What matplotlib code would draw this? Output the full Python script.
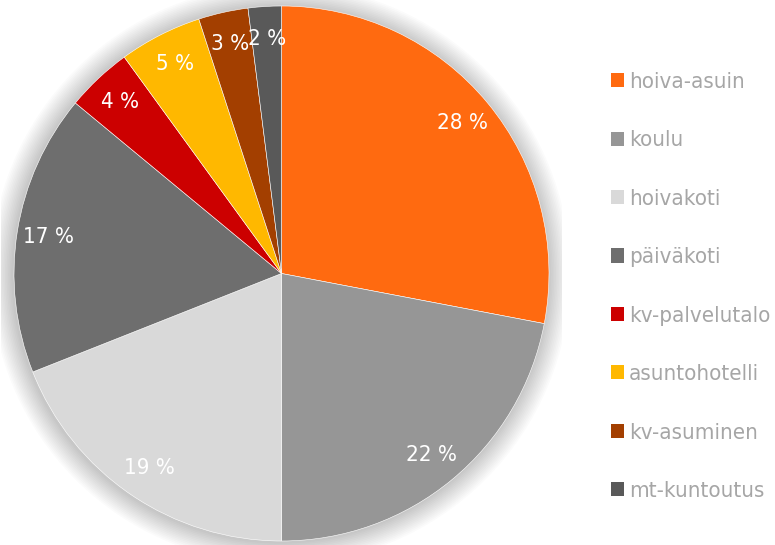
import matplotlib.pyplot as plt
from matplotlib.patches import Patch, Circle

categories = ['hoiva-asuin', 'koulu', 'hoivakoti', 'päiväkoti',
              'kv-palvelutalo', 'asuntohotelli', 'kv-asuminen', 'mt-kuntoutus']
shares = [28, 22, 19, 17, 4, 5, 3, 2]
colors = ['#FF6A10', '#969696', '#D9D9D9', '#6E6E6E',
          '#CC0000', '#FFB800', '#A33F00', '#595959']

font = ['DejaVu Sans']

fig = plt.figure(figsize=(7.75, 5.45), dpi=100)
ax = fig.add_axes([0, 0, 1, 1])

# soft shadow around the pie
for i in range(14):
    ax.add_patch(Circle((-0.004, -0.004), 1.0 + 0.006 * (14 - i), color='black',
                        alpha=0.014, lw=0, zorder=0))

wedges, texts, autotexts = ax.pie(
    shares, colors=colors, startangle=90, counterclock=False,
    autopct=lambda p: f'{p:.0f} %', pctdistance=0.88,
    wedgeprops=dict(edgecolor='white', linewidth=0.4),
    textprops=dict(color='white', fontsize=16, family=font, stretch='condensed'))
ax.set_xlim(-1.05, 1.05)
ax.set_ylim(-1.05, 1.05)
ax.set_position([14 / 775 - 0.025 * 535 / 775, 4 / 545 - 0.025 * 535 / 545,
                 1.05 * 535 / 775, 1.05 * 535 / 545])
ax.set_aspect('auto')

handles = [Patch(facecolor=c, edgecolor='none') for c in colors]
fig.legend(handles, categories, loc='upper left', bbox_to_anchor=(591 / 775, 1 - 52 / 545),
           frameon=False, prop=dict(family=font, size=16, stretch='condensed'),
           labelcolor='#A6A6A6',
           handlelength=0.6, handleheight=0.6, handletextpad=0.2, labelspacing=1.73)

fig.savefig('out.png', dpi=100)
